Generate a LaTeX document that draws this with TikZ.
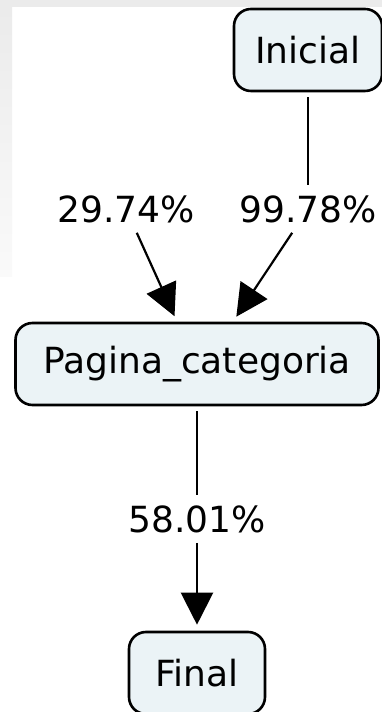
\documentclass[tikz,border=0pt]{standalone}
\usepackage{fontspec}
\setmainfont{DejaVu Sans}
\usepackage{tikz}
\usetikzlibrary{positioning, calc, arrows.meta}
\definecolor{boxfill}{HTML}{EBF3F6}
\definecolor{bggray}{HTML}{EBEBEB}
\tikzstyle{state} = [rectangle, rounded corners=17pt, minimum height=82pt, text centered, draw=black, fill=boxfill, line width=2.6pt]
\tikzstyle{pct} = [inner sep=10pt]
\tikzstyle{line} = [line width=2.2pt, shorten <=5pt]
\tikzstyle{arrow} = [line width=2.2pt, -{Triangle[length=32pt, width=32pt]}, shorten >=6pt]
\tikzstyle{every node}=[font=\fontsize{36}{40}\selectfont]

\begin{document}
\begin{tikzpicture}[x=1pt, y=1pt, node distance=155pt]
    %fondo
    \useasboundingbox (0,0) rectangle (382,712);
    \fill[white] (0,0) rectangle (382,712);
    \fill[bggray] (0,705) rectangle (382,712);
    \shade[top color=bggray, bottom color=white!98!black] (0,435) rectangle (12,705);

    %nodos
    \node (inicial) [state, minimum width=148pt] at (308,662) {Inicial};
    \node (p2) [pct, below of = inicial, yshift = -4pt] {99.78\%};
    \node (p1) [pct, below of = inicial, xshift = -182pt, yshift = -4pt] {29.74\%};
    \node (pag) [state, minimum width=363pt, below of = p2, xshift = -111pt] {Pagina\_categoria};
    \node (p3) [pct, below of = pag] {58.01\%};
    \node (final) [state, minimum width=136pt, below of = p3, yshift = 1pt] {Final};

    %aristas
    \draw [line] (inicial) -- (p2);
    \draw [arrow] (p2) -- ([xshift=36pt]pag.north);
    \draw [arrow] (p1) -- ([xshift=-20pt]pag.north);
    \draw [line] (pag) -- (p3);
    \draw [arrow] (p3) -- (final);
\end{tikzpicture}
\end{document}
